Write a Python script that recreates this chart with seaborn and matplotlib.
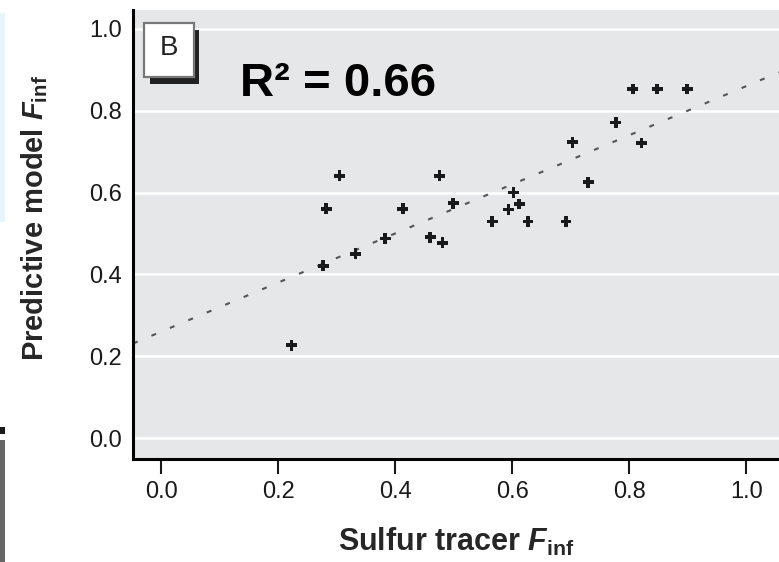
import numpy as np
import pandas as pd
import matplotlib
matplotlib.use("Agg")
import matplotlib.pyplot as plt
import matplotlib.patches as mpatches
import seaborn as sns
import warnings
warnings.simplefilter("ignore")

# sulfur tracer F_inf vs predictive model F_inf (panel B)
sulfur = [0.223, 0.277, 0.282, 0.305, 0.332, 0.383, 0.413, 0.460, 0.476, 0.481,
          0.499, 0.566, 0.594, 0.602, 0.612, 0.627, 0.692, 0.703, 0.730, 0.777,
          0.806, 0.821, 0.848, 0.899]
model = [0.227, 0.421, 0.560, 0.641, 0.450, 0.488, 0.560, 0.491, 0.641, 0.477,
         0.574, 0.529, 0.559, 0.600, 0.572, 0.529, 0.529, 0.723, 0.625, 0.771,
         0.853, 0.721, 0.853, 0.853]
fit_intercept = 0.26
fit_slope = 0.60
r2_text = "R² = 0.66"
ticks = [0.0, 0.2, 0.4, 0.6, 0.8, 1.0]

data = pd.DataFrame({"sulfur": sulfur, "model": model})

sns.set_theme(style="darkgrid", rc={"axes.facecolor": "#e6e7e8",
                                    "grid.color": "white",
                                    "grid.linewidth": 1.8})
plt.rcParams["font.family"] = ["Liberation Sans", "DejaVu Sans"]
plt.rcParams["mathtext.fontset"] = "custom"
plt.rcParams["mathtext.rm"] = "Liberation Sans:bold"
plt.rcParams["mathtext.it"] = "Liberation Sans:bold:italic"
plt.rcParams["mathtext.bf"] = "Liberation Sans:bold"

fig = plt.figure(figsize=(7.79, 5.62), dpi=100)
fig.patch.set_facecolor("white")
ax = fig.add_axes([133 / 779, 1 - 459 / 562, 646 / 779, 449 / 562])

xlim = (-0.048, 1.056)
ylim = (-0.051, 1.046)

xs = np.array(xlim)
fit = pd.DataFrame({"x": xs, "y": fit_intercept + fit_slope * xs})
sns.lineplot(data=fit, x="x", y="y", ax=ax, color="#555555", lw=1.5,
             linestyle=(0, (2.4, 7.2)), zorder=2)
sns.scatterplot(data=data, x="sulfur", y="model", ax=ax, marker="P", s=62,
                color="#1a1a1a", edgecolor="none", zorder=3)

ax.set_xlim(*xlim)
ax.set_ylim(*ylim)
ax.set_xticks(ticks)
ax.set_yticks(ticks)
ax.set_xticklabels([f"{t:.1f}" for t in ticks])
ax.set_yticklabels([f"{t:.1f}" for t in ticks])
ax.xaxis.grid(False)
ax.yaxis.grid(True)

for s in ["top", "right"]:
    ax.spines[s].set_visible(False)
for s in ["left", "bottom"]:
    ax.spines[s].set_visible(True)
    ax.spines[s].set_color("black")
    ax.spines[s].set_linewidth(2.2)

ax.tick_params(axis="x", bottom=True, length=11, width=1.5, color="#1a1a1a",
               pad=5, labelsize=17, labelcolor="#1a1a1a")
ax.tick_params(axis="y", left=False, length=0, pad=8, labelsize=17,
               labelcolor="#1a1a1a")

ax.set_xlabel(r"Sulfur tracer $F_{\mathrm{inf}}$", fontsize=22, fontweight="bold",
              labelpad=16)
ax.set_ylabel(r"Predictive model $F_{\mathrm{inf}}$", fontsize=21, fontweight="bold")
ax.yaxis.set_label_coords(-0.128, 0.537)

# panel letter with drop shadow
W, H = 779, 562
shadow = mpatches.Rectangle((150 / W, 1 - 84 / H), 49 / W, 54 / H,
                            transform=fig.transFigure, facecolor="#222222",
                            edgecolor="none", zorder=5)
box = mpatches.Rectangle((144 / W, 1 - 77 / H), 50 / W, 54 / H,
                         transform=fig.transFigure, facecolor="white",
                         edgecolor="#777777", lw=1.6, zorder=6)
fig.patches.extend([shadow, box])
fig.text(169 / W, 1 - 48 / H, "B", fontsize=20, ha="center", va="center",
         color="#222222", zorder=7)

fig.text(240 / W, 1 - 96 / H, r2_text, fontsize=34, fontweight="bold",
         ha="left", va="baseline", color="black")

# edges of neighbouring panels
fig.patches.extend([
    mpatches.Rectangle((0, 1 - 222 / H), 5 / W, 209 / H, transform=fig.transFigure,
                       facecolor="#e6f4fc", edgecolor="none"),
    mpatches.Rectangle((0, 1 - 434 / H), 5 / W, 7 / H, transform=fig.transFigure,
                       facecolor="#1a1a1a", edgecolor="none"),
    mpatches.Rectangle((0, 0), 5 / W, 1 - 440 / H, transform=fig.transFigure,
                       facecolor="#666666", edgecolor="none"),
])

fig.savefig("out.png", dpi=100)
